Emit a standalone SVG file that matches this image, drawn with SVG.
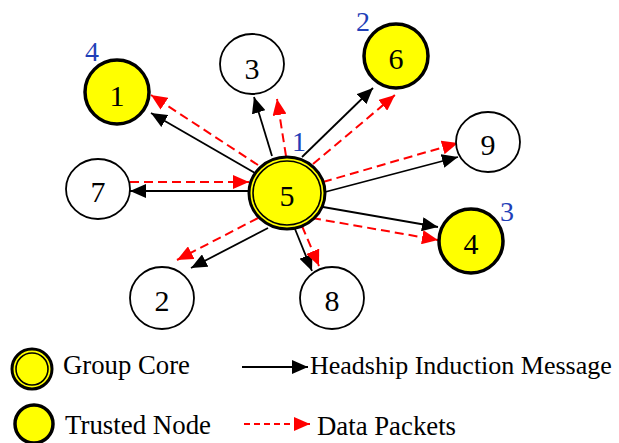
<svg xmlns="http://www.w3.org/2000/svg" width="619" height="443" viewBox="0 0 619 443">
  <style>
    .bg { fill: #ffffff; }
    .plain { fill: #ffffff; stroke: #000000; stroke-width: 1.8; }
    .trusted { fill: #ffff00; stroke: #000000; stroke-width: 3.5; }
    .core-outer { fill: #ffff00; stroke: #000000; stroke-width: 3; }
    .core-inner { fill: #ffff00; stroke: #000000; stroke-width: 1.6; }
    .num { font-family: "Liberation Serif", "Times New Roman", serif; font-size: 30px; fill: #000000; text-anchor: middle; }
    .order { font-family: "Liberation Serif", "Times New Roman", serif; font-size: 28px; fill: #1f3fb8; text-anchor: middle; }
    .legend { font-family: "Liberation Serif", "Times New Roman", serif; font-size: 28px; fill: #000000; }
    .legend-long { font-family: "Liberation Serif", "Times New Roman", serif; font-size: 26px; fill: #000000; }
    .msg { fill: none; stroke: #000000; stroke-width: 1.8; marker-end: url(#head-black); }
    .data { fill: none; stroke: #ff0000; stroke-width: 2; stroke-dasharray: 9 5; marker-end: url(#head-red); }
    .data-key { fill: none; stroke: #ff0000; stroke-width: 2; stroke-dasharray: 6 4; marker-end: url(#head-red); }
  </style>
  <defs>
    <marker id="head-black" markerUnits="userSpaceOnUse" markerWidth="17" markerHeight="14" refX="16" refY="7" orient="auto">
      <path d="M0,0 L16,7 L0,14 Z" fill="#000000"/>
    </marker>
    <marker id="head-red" markerUnits="userSpaceOnUse" markerWidth="17" markerHeight="14" refX="16" refY="7" orient="auto">
      <path d="M0,0 L16,7 L0,14 Z" fill="#ff0000"/>
    </marker>
  </defs>

  <rect class="bg" x="0" y="0" width="619" height="443"/>

  <!-- connectors: solid = headship induction message, dashed = data packets -->
  <g id="connectors">
    <line class="msg" x1="255" y1="173" x2="151" y2="113"/>
    <line class="data" x1="258" y1="165" x2="151" y2="95"/>

    <line class="msg" x1="272" y1="156" x2="254" y2="97"/>
    <line class="data" x1="286" y1="156" x2="277" y2="99"/>

    <line class="msg" x1="302" y1="157" x2="373" y2="88"/>
    <line class="data" x1="313" y1="164" x2="395" y2="95"/>

    <line class="msg" x1="325" y1="192" x2="458" y2="157"/>
    <line class="data" x1="323" y1="182" x2="458" y2="143"/>

    <line class="msg" x1="323" y1="207" x2="438" y2="227"/>
    <line class="data" x1="312" y1="218" x2="438" y2="240"/>

    <line class="msg" x1="295" y1="229" x2="312" y2="271"/>
    <line class="data" x1="302" y1="226" x2="319" y2="266"/>

    <line class="msg" x1="268" y1="228" x2="191" y2="268"/>
    <line class="data" x1="258" y1="218" x2="177" y2="260"/>

    <line class="msg" x1="248" y1="191" x2="130" y2="191"/>
    <line class="data" x1="130" y1="182" x2="249" y2="182"/>
  </g>

  <!-- nodes -->
  <g id="node-5">
    <ellipse class="core-outer" cx="287" cy="193" rx="38" ry="36"/>
    <ellipse class="core-inner" cx="287" cy="193" rx="34" ry="32"/>
    <text class="num" x="287" y="206">5</text>
  </g>
  <g id="node-1">
    <ellipse class="trusted" cx="117" cy="92" rx="32" ry="32"/>
    <text class="num" x="117" y="106">1</text>
  </g>
  <g id="node-3">
    <ellipse class="plain" cx="252" cy="64" rx="32" ry="30"/>
    <text class="num" x="252" y="79">3</text>
  </g>
  <g id="node-6">
    <ellipse class="trusted" cx="396" cy="56" rx="32" ry="32"/>
    <text class="num" x="396" y="69">6</text>
  </g>
  <g id="node-9">
    <ellipse class="plain" cx="488" cy="142" rx="32" ry="30"/>
    <text class="num" x="488" y="155">9</text>
  </g>
  <g id="node-7">
    <ellipse class="plain" cx="98" cy="189" rx="32" ry="30"/>
    <text class="num" x="98" y="202">7</text>
  </g>
  <g id="node-4">
    <ellipse class="trusted" cx="471" cy="241" rx="32" ry="32"/>
    <text class="num" x="471" y="254">4</text>
  </g>
  <g id="node-2">
    <ellipse class="plain" cx="162" cy="298" rx="32" ry="31"/>
    <text class="num" x="162" y="311">2</text>
  </g>
  <g id="node-8">
    <ellipse class="plain" cx="332" cy="298" rx="32" ry="31"/>
    <text class="num" x="332" y="311">8</text>
  </g>

  <!-- induction order labels -->
  <g id="order-labels">
    <text class="order" x="299" y="151">1</text>
    <text class="order" x="363" y="31">2</text>
    <text class="order" x="507" y="221">3</text>
    <text class="order" x="92" y="61">4</text>
  </g>

  <!-- legend -->
  <g id="legend">
    <ellipse class="core-outer" cx="32" cy="369" rx="20" ry="20"/>
    <ellipse class="core-inner" cx="32" cy="369" rx="16" ry="16"/>
    <text class="legend" x="63" y="374" textLength="127" lengthAdjust="spacingAndGlyphs">Group Core</text>

    <ellipse class="trusted" cx="34" cy="424" rx="19" ry="19"/>
    <text class="legend" x="65" y="434" textLength="146" lengthAdjust="spacingAndGlyphs">Trusted Node</text>

    <line class="msg" x1="242" y1="367" x2="308" y2="367"/>
    <text class="legend-long" x="310" y="374">Headship Induction Message</text>

    <line class="data-key" x1="244" y1="424" x2="310" y2="424"/>
    <text class="legend" x="317" y="435" textLength="139" lengthAdjust="spacingAndGlyphs">Data Packets</text>
  </g>
</svg>
